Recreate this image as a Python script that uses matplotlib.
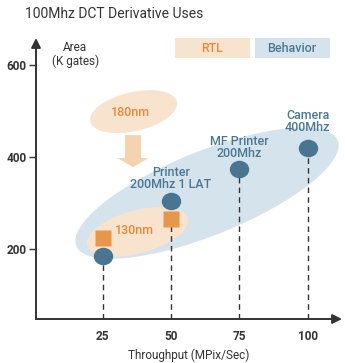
import matplotlib
matplotlib.use("Agg")
import matplotlib.pyplot as plt
from matplotlib.patches import Ellipse, FancyArrow, Rectangle
from matplotlib.markers import MarkerStyle
from matplotlib.transforms import ScaledTranslation, Affine2D

plt.rcParams["font.family"] = ["Roboto", "DejaVu Sans"]
plt.rcParams["font.weight"] = 500

# data
throughput_behavior = [25, 50, 75, 100]
area_behavior = [186, 305, 374, 420]
labels_behavior = ["", "Printer\n200Mhz 1 LAT", "MF Printer\n200Mhz", "Camera\n400Mhz"]
throughput_rtl = [25, 50]
area_rtl = [225, 266]
x_ticks = [25, 50, 75, 100]
y_ticks = [200, 400, 600]

BLUE = "#4a7590"
BLUE_TXT = "#4a7893"
BLUE_FILL = "#d5e3ec"
ORANGE = "#e8964a"
ORANGE_TXT = "#e8883a"
ORANGE_FILL = "#f8e3cf"
ARROW_FILL = "#f5d3b0"
DARK = "#333333"

fig = plt.figure(figsize=(3.45, 3.63), dpi=100)
ax = fig.add_axes([36/345, 1-319/363, (342-36)/345, (319-38)/363])
ax.set_xlim(0.6, 112.6)
ax.set_ylim(48.9, 658.7)

for s in ["top", "right", "left", "bottom"]:
    ax.spines[s].set_visible(False)

# axes with arrow heads
ax.annotate("", xy=(0, 1), xytext=(0, 0), xycoords="axes fraction",
            arrowprops=dict(arrowstyle="-|>", color=DARK, lw=1.4, mutation_scale=14, shrinkA=0, shrinkB=0))
ax.annotate("", xy=(1, 0), xytext=(0, 0), xycoords="axes fraction",
            arrowprops=dict(arrowstyle="-|>", color=DARK, lw=1.4, mutation_scale=14, shrinkA=0, shrinkB=0))

ax.set_yticks(y_ticks)
ax.set_yticklabels([str(v) for v in y_ticks], fontweight="bold", color=DARK, fontsize=8.5)
ax.set_xticks(x_ticks)
ax.set_xticklabels([str(v) for v in x_ticks], fontweight="bold", color=DARK, fontsize=8.5)
ax.tick_params(axis="y", length=5, width=1, color=DARK, pad=2)
ax.tick_params(axis="x", length=0, pad=8)

ax.set_xlabel("Throughput (MPix/Sec)", fontsize=8.5, color=DARK, labelpad=4, fontweight="normal")
ax.text(14.9, 652, "Area\n(K gates)", ha="center", va="top", fontsize=8.5, color=DARK,
        linespacing=1.05, fontweight="normal")


def inch_tr(x, y):
    return fig.dpi_scale_trans + ScaledTranslation(x, y, ax.transData)


# regions
ax.add_patch(Ellipse((0, 0), 2.82, 0.84, angle=22, transform=inch_tr(63.2, 322), color=BLUE_FILL,
                     lw=0, zorder=1, clip_on=False))
ax.add_patch(Ellipse((0, 0), 1.04, 0.43, angle=15, transform=inch_tr(37.7, 238), color=ORANGE_FILL,
                     lw=0, zorder=2))
ax.add_patch(Ellipse((0, 0), 0.89, 0.39, angle=13, transform=inch_tr(36.3, 499), color=ORANGE_FILL,
                     lw=0, zorder=2))
ax.add_patch(FancyArrow(0, 0, 0, -0.32, width=0.16, head_width=0.31, head_length=0.09,
                        length_includes_head=True, transform=inch_tr(36.1, 448), color=ARROW_FILL,
                        lw=0, zorder=2))
ax.text(35.0, 496, "180nm", ha="center", va="center", fontsize=9, color=ORANGE_TXT, zorder=3)
ax.text(36.8, 242, "130nm", ha="center", va="center", fontsize=9, color=ORANGE_TXT, zorder=3)

# drop lines
for x in x_ticks:
    vals = [a for t, a in zip(throughput_behavior, area_behavior) if t == x] + \
           [a for t, a in zip(throughput_rtl, area_rtl) if t == x]
    ax.plot([x, x], [ax.get_ylim()[0], min(vals)], ls=(0, (4, 3)), color=DARK, lw=1, zorder=3)

circle = MarkerStyle("o", transform=Affine2D().scale(1, 0.9))
ax.plot(throughput_behavior, area_behavior, ls="none", marker=circle, ms=14, color=BLUE, mec="none", zorder=5)
ax.plot(throughput_rtl, area_rtl, ls="none", marker="s", ms=11.5, color=ORANGE, mec="none", zorder=5)

offsets = [0, 7, 6.5, 10]
for x, y, lab, off in zip(throughput_behavior, area_behavior, labels_behavior, offsets):
    if lab:
        ax.annotate(lab, (x, y), xytext=(0, off), textcoords="offset points", ha="center", va="bottom",
                    fontsize=9, color=BLUE_TXT, linespacing=0.95, zorder=6)

# legend boxes
fig.patches.append(Rectangle((175/345, 1-58/363), 75/345, 20/363, transform=fig.transFigure,
                             color=ORANGE_FILL, lw=0))
fig.patches.append(Rectangle((255/345, 1-58/363), 75/345, 20/363, transform=fig.transFigure,
                             color=BLUE_FILL, lw=0))
fig.text(212/345, 1-48/363, "RTL", ha="center", va="center", fontsize=9, color=ORANGE_TXT)
fig.text(292/345, 1-48/363, "Behavior", ha="center", va="center", fontsize=9, color=BLUE_TXT)

fig.text(25/345, 1-14/363, "100Mhz DCT Derivative Uses", ha="left", va="center", fontsize=10,
         color=DARK, fontweight="normal")

fig.savefig("out.png", dpi=100)
